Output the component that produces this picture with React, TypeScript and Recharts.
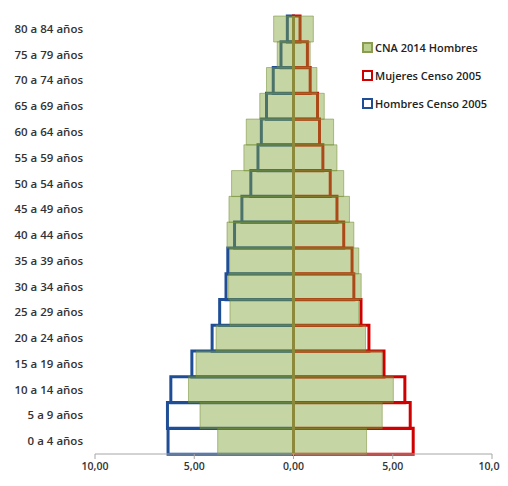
import {Bar, BarChart, Legend, ReferenceLine, XAxis, YAxis} from 'recharts'

const AGE_GROUPS = [
    '80 a 84 años', '75 a 79 años', '70 a 74 años', '65 a 69 años', '60 a 64 años',
    '55 a 59 años', '50 a 54 años', '45 a 49 años', '40 a 44 años', '35 a 39 años',
    '30 a 34 años', '25 a 29 años', '20 a 24 años', '15 a 19 años', '10 a 14 años',
    '5 a 9 años', '0 a 4 años',
]

// CNA 2014 (%), drawn as filled bars
const CNA_HOMBRES = [1.0, 0.82, 1.36, 1.7, 2.38, 2.5, 3.12, 3.25, 3.35, 3.22, 3.27, 3.2, 3.9, 4.91, 5.29, 4.71, 3.82]
const CNA_MUJERES = [1.0, 0.84, 1.18, 1.55, 2.02, 2.19, 2.53, 2.82, 3.04, 3.29, 3.41, 3.28, 3.63, 4.47, 5.03, 4.47, 3.68]

// Censo 2005 (%), drawn as outlines
const CENSO_HOMBRES = [0.31, 0.63, 1.02, 1.36, 1.62, 1.79, 2.15, 2.6, 2.97, 3.31, 3.4, 3.72, 4.1, 5.12, 6.18, 6.35, 6.32]
const CENSO_MUJERES = [0.33, 0.7, 0.84, 1.21, 1.31, 1.48, 1.85, 2.19, 2.53, 2.95, 3.04, 3.4, 3.8, 4.56, 5.61, 5.88, 6.03]

const X_TICKS = [-10, -5, 0, 5, 10]

const GREEN = '#80a235'
const RED = '#d00000'
const BLUE = '#1f4e96'

const data = AGE_GROUPS.map((age, i) => ({
    age,
    cnaHombres: -CNA_HOMBRES[i],
    cnaMujeres: CNA_MUJERES[i],
    censoHombres: -CENSO_HOMBRES[i],
    censoMujeres: CENSO_MUJERES[i],
}))

const legendItems = [
    {label: 'CNA 2014 Hombres', fill: '#bcd08e', stroke: '#8a9c52'},
    {label: 'Mujeres Censo 2005', fill: '#fff', stroke: RED},
    {label: 'Hombres Censo 2005', fill: '#fff', stroke: BLUE},
]

const renderLegend = () => (
    <div style={{fontFamily: '"Open Sans", sans-serif', fontSize: 11, fontWeight: 600, color: '#222'}}>
        {legendItems.map(item => (
            <div key={item.label} style={{display: 'flex', alignItems: 'center', height: 28}}>
                <span style={{
                    display: 'inline-block', width: 7, height: 7, background: item.fill,
                    border: `2px solid ${item.stroke}`, marginRight: 2,
                }}/>
                {item.label}
            </div>
        ))}
    </div>
)

const fmt = (v: number) => Math.abs(v).toFixed(2).replace('.', ',')

export default function App() {
    return (
        <div style={{width: 500, height: 470}}>
            <style>{'.recharts-surface { overflow: visible; }'}</style>
            <BarChart
                width={500}
                height={470}
                data={data}
                layout="vertical"
                stackOffset="sign"
                barCategoryGap={0}
                margin={{top: 8, right: 16, left: 0, bottom: 0}}
            >
                <XAxis
                    type="number"
                    domain={[-10, 10]}
                    ticks={X_TICKS}
                    tickFormatter={fmt}
                    stroke="#a6a6a6"
                    tickSize={5}
                    tickMargin={4}
                    height={24}
                    tick={{fill: '#333', fontSize: 10.5, fontWeight: 600, fontFamily: '"Open Sans", sans-serif'}}
                />
                <YAxis
                    yAxisId="censo"
                    type="category"
                    dataKey="age"
                    width={87}
                    axisLine={false}
                    tickLine={false}
                    tickSize={6}
                    tickMargin={6}
                    interval={0}
                    tick={{fill: '#333', fontSize: 11.5, fontWeight: 600, fontFamily: '"Open Sans", sans-serif'}}
                />
                <YAxis yAxisId="cna" type="category" dataKey="age" hide/>
                <Legend
                    layout="vertical"
                    align="center"
                    verticalAlign="middle"
                    content={renderLegend}
                    wrapperStyle={{top: 25, left: 354, width: 'auto'}}
                />
                <Bar yAxisId="censo" dataKey="censoHombres" stackId="censo" fill="none" stroke={BLUE}
                     strokeWidth={3} isAnimationActive={false}/>
                <Bar yAxisId="censo" dataKey="censoMujeres" stackId="censo" fill="none" stroke={RED}
                     strokeWidth={3} isAnimationActive={false}/>
                <Bar yAxisId="cna" dataKey="cnaHombres" stackId="cna" fill={GREEN} fillOpacity={0.45}
                     stroke="#6f8a30" strokeOpacity={0.5} strokeWidth={1} isAnimationActive={false}/>
                <Bar yAxisId="cna" dataKey="cnaMujeres" stackId="cna" fill={GREEN} fillOpacity={0.45}
                     stroke="#6f8a30" strokeOpacity={0.5} strokeWidth={1} isAnimationActive={false}/>
                <ReferenceLine yAxisId="censo" x={0} stroke="#8c8a3a" strokeWidth={3}/>
            </BarChart>
        </div>
    )
}
